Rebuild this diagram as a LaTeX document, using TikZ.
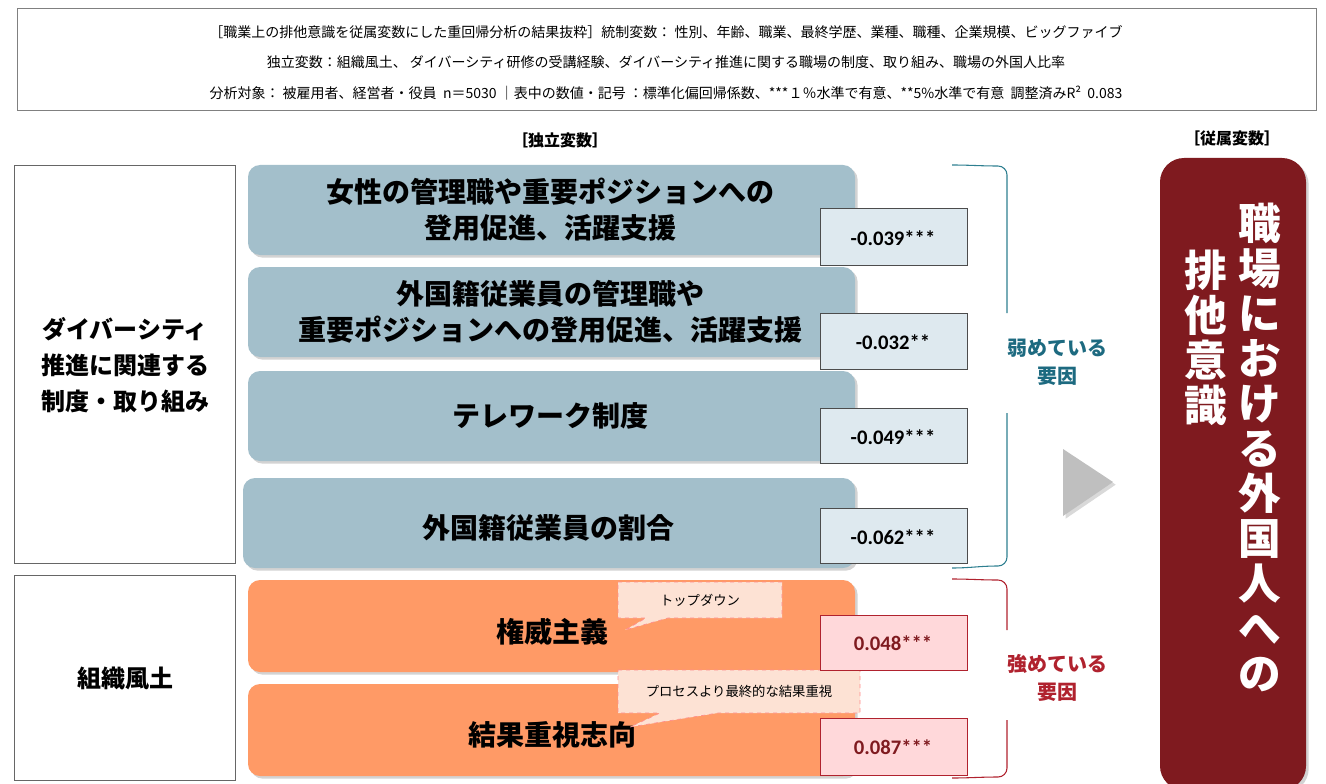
\documentclass[tikz,border=0pt]{standalone}
\usepackage{fontspec}
\setmainfont{Noto Sans CJK JP}
\newfontfamily\numfont{Carlito}
\usetikzlibrary{shadows}
\definecolor{bluebox}{HTML}{A3BFCB}
\definecolor{bluev}{HTML}{DEE9EF}
\definecolor{orbox}{HTML}{FF9A66}
\definecolor{redv}{HTML}{FFD8DA}
\definecolor{darkred}{HTML}{7F1A1F}
\definecolor{teal}{HTML}{2E7F90}
\definecolor{tealtxt}{HTML}{1D6A80}
\definecolor{redtxt}{HTML}{B0222E}
\definecolor{callfill}{HTML}{FDE2D4}
\tikzset{
 big/.style={font=\fontsize{21}{27}\selectfont\bfseries, align=center},
 bluefac/.style={fill=bluebox, rounded corners=9pt, drop shadow={opacity=0.35,shadow xshift=2pt,shadow yshift=-2pt}},
 orfac/.style={fill=orbox, rounded corners=9pt, drop shadow={opacity=0.35,shadow xshift=2pt,shadow yshift=-2pt}},
 bval/.style={draw=black!70, fill=bluev, line width=0.6pt},
 rval/.style={draw=redtxt, fill=redv, line width=0.6pt},
 valtxt/.style={font=\numfont\bfseries\fontsize{15.5}{18}\selectfont},
 leftbox/.style={draw=black!60, fill=white, line width=0.6pt},
 calloutbox/.style={fill=callfill, draw=red!45, dashed, line width=0.5pt},
}
\begin{document}
\begin{tikzpicture}[x=0.75pt,y=-0.75pt]
\useasboundingbox (0,0) rectangle (1326,784);
% header
\draw[draw=black!50, fill=white] (17,8) rectangle (1316,110);
\node (h1) at (666,32) {\fontsize{10.5}{12}\selectfont［職業上の排他意識を従属変数にした重回帰分析の結果抜粋］統制変数：\ 性別、年齢、職業、最終学歴、業種、職種、企業規模、ビッグファイブ};
\node (h2) at (666,62) {\fontsize{10.5}{12}\selectfont 独立変数：組織風土、\ ダイバーシティ研修の受講経験、ダイバーシティ推進に関する職場の制度、取り組み、職場の外国人比率};
\node (h3) at (666,93) {\fontsize{10.5}{12}\selectfont 分析対象：\ 被雇用者、経営者・役員\ \ n＝5030\ ｜表中の数値・記号\ ：標準化偏回帰係数、***１％水準で有意、**5\%水準で有意\ \ 調整済みR²\ \ 0.083};
\node (lab1) at (560,140) {\fontsize{12}{14}\selectfont\bfseries［独立変数］};
\node (lab2) at (1232,138) {\fontsize{12}{14}\selectfont\bfseries［従属変数］};
% left boxes
\draw[leftbox] (14,165) rectangle (235,563);
\node[font=\fontsize{18}{27}\selectfont\bfseries, align=center] (L1) at (125,365) {ダイバーシティ\\推進に関連する\\制度・取り組み};
\draw[leftbox] (14,575) rectangle (235,780);
\node[font=\fontsize{18}{24}\selectfont\bfseries] (L2) at (125,678) {組織風土};
% blue boxes
\fill[bluefac] (248,165) rectangle (855,255);
\fill[bluefac] (248,267) rectangle (855,357);
\fill[bluefac] (248,371) rectangle (855,461);
\fill[bluefac] (243,478) rectangle (855,568);
\node[big] (b1) at (550,210) {女性の管理職や重要ポジションへの\\登用促進、活躍支援};
\node[big] (b2) at (550,312) {外国籍従業員の管理職や\\重要ポジションへの登用促進、活躍支援};
\node[big] (b3) at (550,416) {テレワーク制度};
\node[big] (b4) at (548,528) {外国籍従業員の割合};
% values
\draw[bval] (820,208) rectangle (967,265); \node[valtxt] (v1) at (893,238) {-0.039***};
\draw[bval] (820,313) rectangle (967,369); \node[valtxt] (v2) at (893,342) {-0.032**};
\draw[bval] (820,408) rectangle (967,463); \node[valtxt] (v3) at (893,437) {-0.049***};
\draw[bval] (820,508) rectangle (967,563); \node[valtxt] (v4) at (893,537) {-0.062***};
% orange boxes
\fill[orfac] (248,580) rectangle (855,672);
\fill[orfac] (248,684) rectangle (855,776);
\node[big] (o1) at (552,632) {権威主義};
\node[big] (o2) at (552,735) {結果重視志向};
% callouts
\draw[calloutbox] (618,582) -- (782,582) -- (782,618) -- (668,618) -- (625,630) -- (646,618) -- (618,618) -- cycle;
\node[font=\fontsize{10}{12}\selectfont] (c1) at (700,600) {トップダウン};
\draw[calloutbox] (618,670) -- (860,670) -- (860,713) -- (718,713) -- (630,727) -- (660,713) -- (618,713) -- cycle;
\node[font=\fontsize{10}{12}\selectfont] (c2) at (739,691) {プロセスより最終的な結果重視};
\draw[rval] (820,615) rectangle (967,670); \node[valtxt, text=darkred] (r1) at (893,643) {0.048***};
\draw[rval] (820,718) rectangle (967,775); \node[valtxt, text=darkred] (r2) at (893,747) {0.087***};
% braces
\draw[teal, line width=0.8pt] (952,165) to[out=0,in=180] (998,166) to[out=0,in=90] (1007,175) -- (1007,313);
\draw[teal, line width=0.8pt] (1007,413) -- (1007,557) to[out=-90,in=0] (998,566) to[out=180,in=0] (952,568);
\node[text=tealtxt, font=\fontsize{15}{21}\selectfont\bfseries, align=center] (t1) at (1057,362) {弱めている\\要因};
\draw[redtxt, line width=0.8pt] (952,579) to[out=0,in=180] (998,580) to[out=0,in=90] (1007,589) -- (1007,630);
\draw[redtxt, line width=0.8pt] (1007,720) -- (1007,768) to[out=-90,in=0] (998,777) to[out=180,in=0] (952,778);
\node[text=redtxt, font=\fontsize{15}{21}\selectfont\bfseries, align=center] (t2) at (1057,678) {強めている\\要因};
% arrow
\fill[black!25, drop shadow={opacity=0.3,shadow xshift=2pt,shadow yshift=-2pt}] (1063,449) -- (1113,482) -- (1063,516) -- cycle;
% dependent
\fill[darkred, rounded corners=18pt, drop shadow={opacity=0.35,shadow xshift=2pt,shadow yshift=-2pt}] (1160,158) rectangle (1306,790);
\node[text=white, font=\fontsize{32}{33.75}\selectfont\bfseries, align=center, anchor=north] (d1) at (1260,198) {職\\場\\に\\お\\け\\る\\外\\国\\人\\へ\\の};
\node[text=white, font=\fontsize{32}{33.75}\selectfont\bfseries, align=center, anchor=north] (d2) at (1206,245) {排\\他\\意\\識};
\end{tikzpicture}
\end{document}
